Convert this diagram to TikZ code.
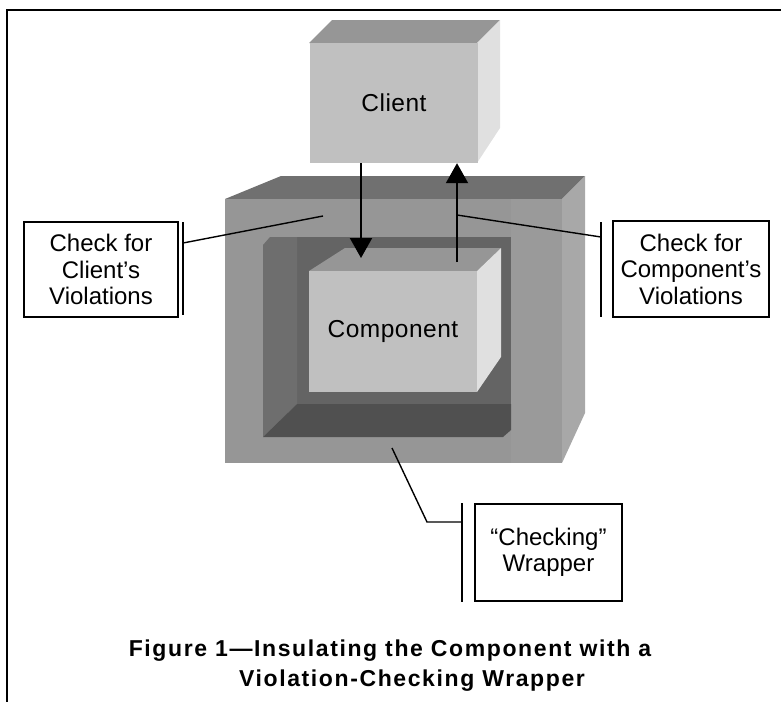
\documentclass[tikz,border=0pt]{standalone}
\usepackage{fontspec}
\setmainfont{Liberation Sans}
\newfontfamily\capfont[LetterSpace=7]{Liberation Sans}
\newfontfamily\boxfont[LetterSpace=2]{Liberation Sans}
\usetikzlibrary{arrows.meta}
\definecolor{boxfront}{HTML}{C0C0C0}
\definecolor{boxtop}{HTML}{969696}
\definecolor{boxside}{HTML}{E0E0E0}
\definecolor{wrapfront}{HTML}{969696}
\definecolor{wrapband}{HTML}{9A9A9A}
\definecolor{wraptop}{HTML}{707070}
\definecolor{wrapside}{HTML}{A8A8A8}
\definecolor{cavleft}{HTML}{6E6E6E}
\definecolor{cavback}{HTML}{646464}
\definecolor{cavfloor}{HTML}{505050}
\begin{document}
\begin{tikzpicture}[x=1pt,y=-1pt,
  frontface/.style={fill=boxfront,draw=none,minimum width=168pt,minimum height=120pt,inner sep=0pt,font=\boxfont\fontsize{24.5}{28}\selectfont},
  callout/.style={draw=black,line width=1.4pt,fill=white,align=center,inner sep=0pt,font=\fontsize{24}{26.5}\selectfont},
  lead/.style={line width=1.4pt},
  bracket/.style={line width=1.4pt},
  arr/.style={line width=2pt,-{Triangle[width=22pt,length=20pt]}},
  captext/.style={font=\capfont\bfseries\fontsize{23}{27}\selectfont,anchor=base,inner sep=0pt}
]
\useasboundingbox (0,0) rectangle (781,702);

% frame
\draw[line width=2pt] (781,10) -- (7,10) -- (7,702);

% wrapper
\fill[wraptop] (225,199) -- (281,176) -- (585,176) -- (562,199) -- cycle;
\fill[wrapside] (562,199) -- (585,176) -- (585,413) -- (562,463) -- cycle;
\fill[wrapfront] (225,199) rectangle (562,463);
\fill[wrapband] (511,199) rectangle (562,463);
% cavity
\fill[cavback] (297,237) rectangle (511,404);
\fill[cavleft] (263,245) -- (270,237) -- (297,237) -- (297,404) -- (263,437) -- cycle;
\fill[cavfloor] (263,437) -- (297,404) -- (511,404) -- (511,430) -- (503,437) -- cycle;

% component
\fill[boxtop] (309,271) -- (345,248) -- (501,248) -- (477,271) -- cycle;
\fill[boxside] (477,271) -- (501,248) -- (501,357) -- (477,392) -- cycle;
\node[frontface,minimum height=121pt] (comp) at (393,331.5) {Component};

% client
\fill[boxtop] (309,43) -- (332,20) -- (500,20) -- (477,43) -- cycle;
\fill[boxside] (477,43) -- (500,20) -- (500,128) -- (477,163) -- cycle;
\node[frontface] (client) at (394,103) {Client};

% arrows
\coordinate (downtip) at (361,258);
\coordinate (upstart) at (457,262);
\draw[arr] (client.south -| downtip) -- (downtip);
\draw[arr] (upstart) -- (upstart |- client.south);

% left callout
\node[callout,minimum width=154pt,minimum height=95pt] (lbox) at (101,269.5) {Check for\\Client’s\\Violations};
\coordinate (lbt) at (183,222);
\coordinate (lbb) at (183,315);
\coordinate (lbm) at (183,243);
\coordinate (lanchor) at (323,216);
\draw[bracket] (lbt) -- (lbb);
\draw[lead] (lbm) -- (lanchor);

% right callout
\node[callout,minimum width=156pt,minimum height=96pt] (rbox) at (691,269) {Check for\\Component’s\\Violations};
\coordinate (rbt) at (601,222);
\coordinate (rbb) at (601,317);
\coordinate (rbm) at (601,237);
\coordinate (ranchor) at (457,215);
\draw[bracket] (rbt) -- (rbb);
\draw[lead] (ranchor) -- (rbm);

% bottom callout
\node[callout,minimum width=147pt,minimum height=97pt] (bbox) at (548.5,552.5) {“Checking”\\Wrapper};
\coordinate (bbt) at (462,503);
\coordinate (bbb) at (462,602);
\coordinate (bbm) at (462,522);
\coordinate (bknee) at (427,522);
\coordinate (banchor) at (392,448);
\draw[bracket] (bbt) -- (bbb);
\draw[lead] (banchor) -- (bknee) -- (bbm);

% caption
\node[captext] (cap1) at (390,656) {Figure 1—Insulating the Component with a};
\node[captext] (cap2) at (412,686) {Violation-Checking Wrapper};
\end{tikzpicture}
\end{document}
